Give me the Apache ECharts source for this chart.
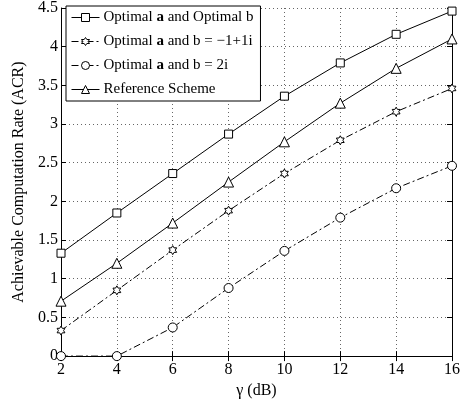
<!DOCTYPE html>
<html>
<head>
<meta charset="utf-8">
<script src="https://cdn.jsdelivr.net/npm/echarts@6/dist/echarts.min.js"></script>
<style>
  html, body { margin: 0; padding: 0; background: #fff; }
  #main { width: 466px; height: 404px; }
</style>
</head>
<body>
<div id="main"></div>
<script>
// gamma (dB)
var gammaDb = [2, 4, 6, 8, 10, 12, 14, 16];

var optAOptB = [1.33, 1.85, 2.36, 2.87, 3.36, 3.79, 4.16, 4.46];
var optABm1p1i = [0.33, 0.85, 1.37, 1.88, 2.36, 2.79, 3.16, 3.46];
var optAB2i = [0, 0, 0.37, 0.88, 1.36, 1.79, 2.17, 2.46];
var refScheme = [0.71, 1.2, 1.72, 2.25, 2.77, 3.27, 3.72, 4.1];

var seriesNames = [
  'Optimal a and Optimal b',
  'Optimal a and b = \u22121+1i',
  'Optimal a and b = 2i',
  'Reference Scheme'
];

var serif = '"Liberation Serif", "DejaVu Serif", serif';
var hexagram = 'path://M0,-10 L2.89,-5 L8.66,-5 L5.77,0 L8.66,5 L2.89,5 L0,10 L-2.89,5 L-8.66,5 L-5.77,0 L-8.66,-5 L-2.89,-5 Z';
var dashDot = [7, 3, 2, 3];

function pairs(ys) {
  return gammaDb.map(function (x, i) { return [x, ys[i]]; });
}

function mkSeries(name, data, symbol, size, dash) {
  return {
    name: name,
    type: 'line',
    data: pairs(data),
    symbol: symbol,
    symbolSize: size,
    symbolKeepAspect: true,
    showAllSymbol: true,
    lineStyle: { color: '#000', width: 1, type: dash },
    itemStyle: { color: '#fff', borderColor: '#000', borderWidth: 1 },
    emphasis: { disabled: true },
    z: 3
  };
}

var chart = echarts.init(document.getElementById('main'), null, { renderer: 'canvas' });

var option = {
  animation: false,
  backgroundColor: '#fff',
  textStyle: { fontFamily: serif, color: '#000' },
  grid: { left: 61, right: 14, top: 3, bottom: 45, containLabel: false },
  legend: {
    orient: 'vertical',
    left: 66,
    top: 6,
    padding: [4, 7, 4, 5],
    itemWidth: 28,
    itemHeight: 10,
    itemGap: 9,
    borderColor: '#000',
    borderWidth: 1,
    borderRadius: 0,
    backgroundColor: '#fff',
    data: seriesNames,
    lineStyle: { width: 1 },
    itemStyle: { borderWidth: 1 },
    textStyle: {
      fontFamily: serif, fontSize: 15, color: '#000', padding: [0, 0, 0, -1],
      rich: { b: { fontFamily: serif, fontSize: 15, fontWeight: 'bold', color: '#000' } }
    },
    formatter: function (name) {
      return name.replace(' a ', ' {b|a} ');
    }
  },
  xAxis: [{
    type: 'value',
    min: 2, max: 16, interval: 2,
    name: '\u03b3 (dB)',
    nameLocation: 'middle',
    nameGap: 23,
    nameTextStyle: { fontFamily: serif, fontSize: 16, color: '#000' },
    axisLine: { show: true, onZero: false, lineStyle: { color: '#000', width: 1 } },
    axisTick: { show: true, inside: true, length: 5, lineStyle: { color: '#000' } },
    axisLabel: { fontFamily: serif, fontSize: 16, color: '#000', margin: 6 },
    splitLine: { show: true, lineStyle: { color: '#666', type: [1, 3], width: 1 } }
  }, {
    type: 'value',
    position: 'top',
    min: 2, max: 16, interval: 2,
    axisLine: { show: true, lineStyle: { color: '#000', width: 1 } },
    axisTick: { show: true, inside: true, length: 5, lineStyle: { color: '#000' } },
    axisLabel: { show: false },
    splitLine: { show: false }
  }],
  yAxis: [{
    type: 'value',
    min: 0, max: 4.5, interval: 0.5,
    name: 'Achievable Computation Rate (ACR)',
    nameLocation: 'middle',
    nameGap: 25,
    nameTextStyle: { fontFamily: serif, fontSize: 16, color: '#000' },
    axisLine: { show: true, onZero: false, lineStyle: { color: '#000', width: 1 } },
    axisTick: { show: true, inside: true, length: 5, lineStyle: { color: '#000' } },
    axisLabel: { fontFamily: serif, fontSize: 16, color: '#000', margin: 3 },
    splitLine: { show: true, lineStyle: { color: '#666', type: [1, 3], width: 1 } }
  }, {
    type: 'value',
    position: 'right',
    min: 0, max: 4.5, interval: 0.5,
    axisLine: { show: true, lineStyle: { color: '#000', width: 1 } },
    axisTick: { show: true, inside: true, length: 5, lineStyle: { color: '#000' } },
    axisLabel: { show: false },
    splitLine: { show: false }
  }],
  series: [
    mkSeries(seriesNames[0], optAOptB, 'rect', 8, 'solid'),
    mkSeries(seriesNames[1], optABm1p1i, hexagram, 9, dashDot),
    mkSeries(seriesNames[2], optAB2i, 'circle', 9, dashDot),
    mkSeries(seriesNames[3], refScheme, 'triangle', 10, 'solid')
  ]
};

chart.setOption(option);
</script>
</body>
</html>
